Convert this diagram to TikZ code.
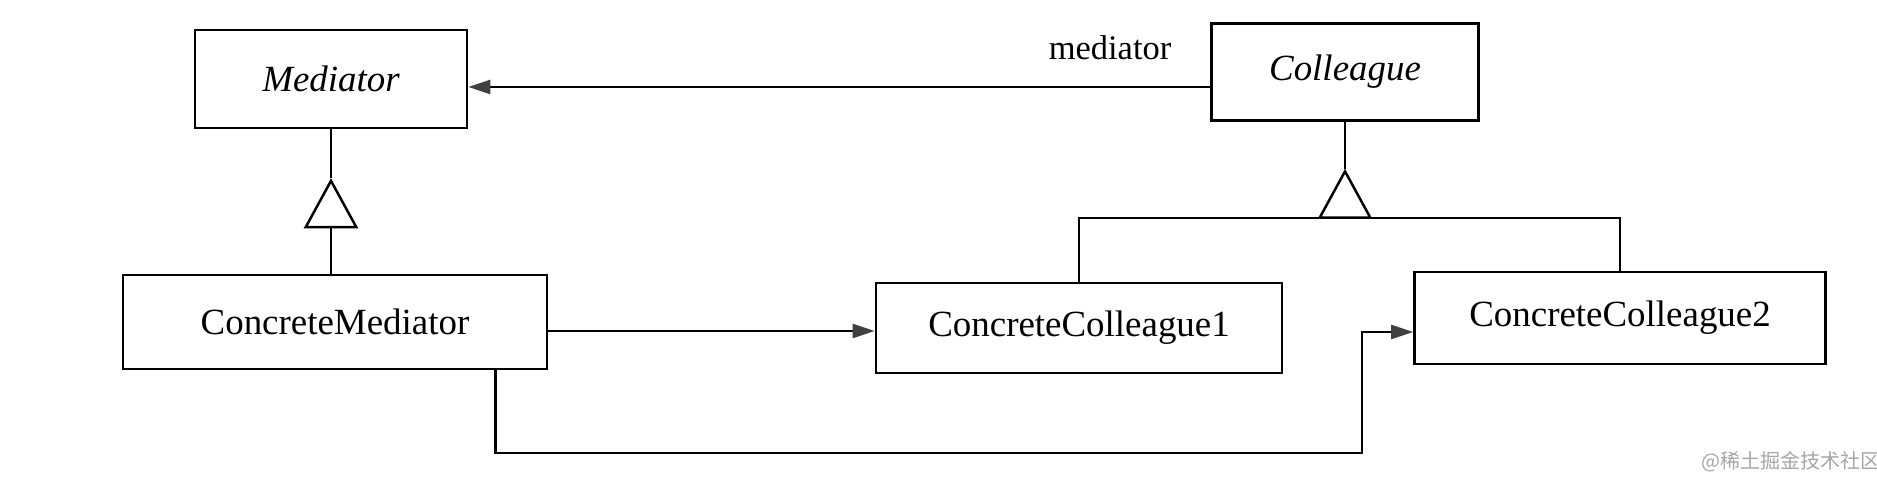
\documentclass[tikz,border=0pt]{standalone}
\usepackage{fontspec}
\setmainfont{Liberation Serif}
\newfontfamily\cjkfont{Noto Sans CJK SC}
\usetikzlibrary{arrows.meta,calc,positioning}

\begin{document}
\begin{tikzpicture}[x=0.01cm,y=-0.01cm,
  cls/.style={draw,line width=0.7pt,inner sep=0pt,font=\fontsize{10.5}{12}\selectfont},
  assoc/.style={line width=0.7pt,-{Triangle[length=0.22cm,width=0.14cm,color=black!75]}},
  inherit/.style={line width=0.7pt,-{Triangle[open,length=0.5cm,width=0.54cm]}}]
  \useasboundingbox (0,0) rectangle (1877,477);
  \node[cls,minimum width=2.72cm,minimum height=0.98cm] (med) at (331,79) {\itshape Mediator};
  \node[cls,minimum width=2.67cm,minimum height=0.97cm] (col) at (1345,72) {\itshape Colleague};
  \node[cls,minimum width=4.24cm,minimum height=0.94cm] (cmed) at (335,322) {ConcreteMediator};
  \node[cls,minimum width=4.06cm,minimum height=0.9cm] (cc1) at (1079,328) {ConcreteColleague1};
  \node[cls,minimum width=4.11cm,minimum height=0.92cm] (cc2) at (1620,318) {ConcreteColleague2};
  \node[font=\fontsize{9.8}{11}\selectfont] (role) at (1110,48) {mediator};
  \node[text=black!35,font=\cjkfont\fontsize{5.7}{7}\selectfont] (wm) at (1791,462) {@稀土掘金技术社区};

  \coordinate (colout) at ($(col.west)+(0,15)$);
  \draw[assoc] (colout) -- (colout -| med.east);

  \coordinate (medtip) at ($(med.south)+(0,49)$);
  \draw[inherit] (cmed.north -| medtip) -- (medtip);
  \draw[line width=0.7pt] (medtip) -- (med.south);

  \coordinate (coltip) at ($(col.south)+(0,47)$);
  \coordinate (colbar) at ($(col.south)+(0,96)$);
  \draw[line width=0.7pt] (cc1.north) |- (colbar) -| (cc2.north);
  \draw[inherit] (colbar) -- (coltip);
  \draw[line width=0.7pt] (coltip) -- (col.south);

  \coordinate (cc1in) at ($(cc1.west)+(0,3)$);
  \draw[assoc] (cc1in -| cmed.east) -- (cc1in);

  \coordinate (cmout) at ($(cmed.south east)+(-53,0)$);
  \coordinate (turn) at (1362,453);
  \coordinate (cc2in) at ($(cc2.west)+(0,14)$);
  \draw[assoc] (cmout) |- (turn) |- (cc2in);
\end{tikzpicture}
\end{document}
